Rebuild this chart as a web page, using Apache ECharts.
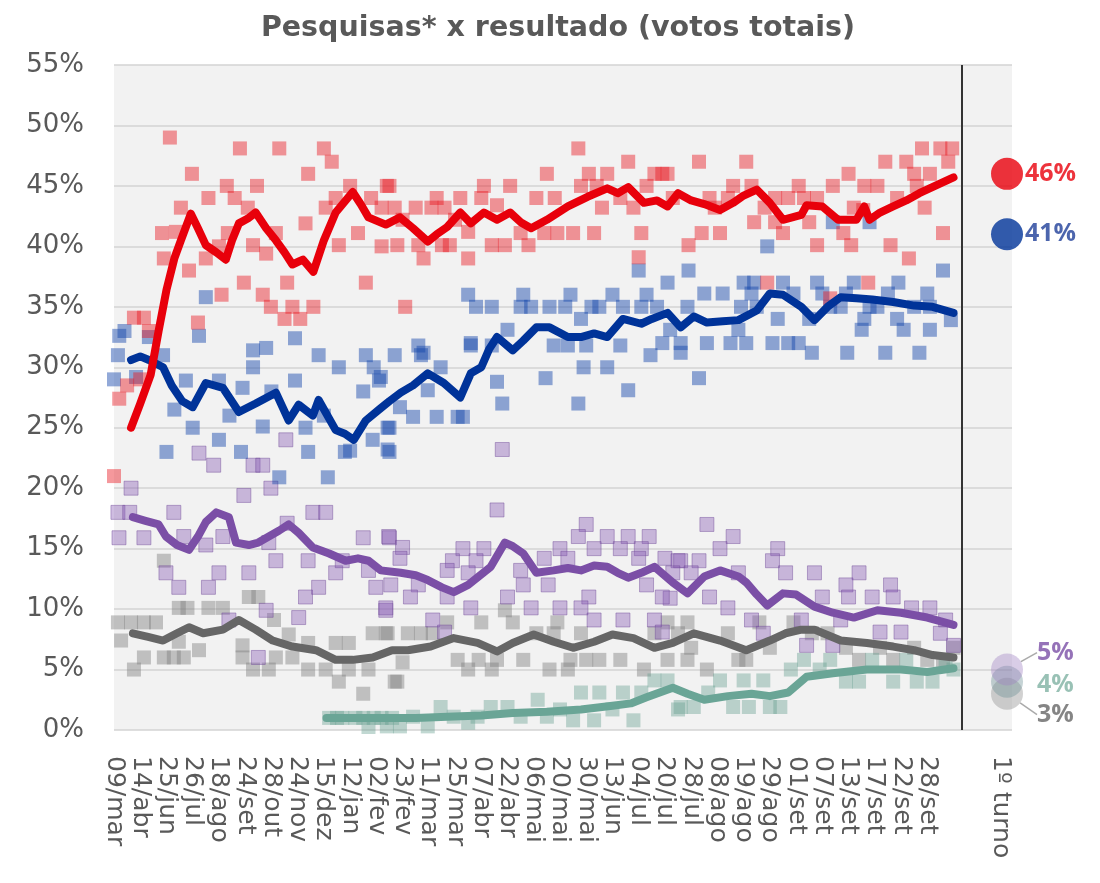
<!DOCTYPE html>
<html>
<head>
<meta charset="utf-8">
<script src="https://cdn.jsdelivr.net/npm/echarts@6/dist/echarts.min.js"></script>
<style>html,body{margin:0;padding:0;background:#fff}#c{width:1100px;height:883px}</style>
</head>
<body>
<div id="c"></div>
<script>
// Tick labels (poll dates) — x positions are tick indices
const dateLabels = ['09/mar','14/abr','25/jun','26/jul','18/ago','24/set','28/out','24/nov','15/dez','12/jan','02/fev','23/fev','11/mar','25/mar','07/abr','22/abr','06/mai','20/mai','30/mai','13/jun','04/jul','20/jul','28/jul','08/ago','19/ago','29/ago','01/set','07/set','13/set','17/set','22/set','28/set'];
const resultLabel = '1º turno';
const resultPos = 33.8;
const separatorPos = 32.33;
const yTicks = [0,5,10,15,20,25,30,35,40,45,50,55];

// Election result (1º turno)
const resultRed = 46, resultBlue = 41, resultPurple = 5, resultTeal = 4, resultGray = 3;

// Moving averages [tickIndex, %]
const redLine = [[0.65,25],[1.0,27],[1.4,29.4],[1.7,33],[2.0,36.4],[2.3,39],[2.55,40.5],[2.93,42.7],[3.2,41.5],[3.5,40.1],[3.9,39.5],[4.26,38.9],[4.5,40.5],[4.76,41.9],[5.1,42.3],[5.4,42.8],[5.8,41.5],[6.17,40.5],[6.5,39.5],[6.8,38.5],[7.2,38.9],[7.6,37.9],[8.0,40.5],[8.45,42.8],[9.1,44.5],[9.4,43.5],[9.7,42.4],[10.36,41.8],[10.9,42.4],[11.4,41.5],[11.96,40.4],[12.3,41],[12.7,41.6],[13.2,42.8],[13.6,41.9],[14.1,42.8],[14.6,42.2],[15.1,42.8],[15.5,42],[15.9,41.5],[16.5,42.2],[17.3,43.3],[18.05,44.1],[18.8,44.8],[19.2,44.4],[19.6,44.9],[20.2,43.6],[20.7,43.8],[21.1,43.3],[21.5,44.4],[22,43.8],[22.5,43.5],[23.1,43],[23.6,43.6],[24.0,44.2],[24.5,44.7],[25,43.6],[25.5,42.2],[26.2,42.6],[26.4,43.4],[27,43.3],[27.6,42.2],[28.3,42.2],[28.6,43.3],[28.8,42.2],[29.2,42.8],[29.7,43.3],[30.2,43.8],[30.7,44.4],[31.4,45.1],[32,45.7]];
const blueLine = [[0.65,30.6],[1.0,30.9],[1.33,30.6],[1.87,30],[2.2,28.5],[2.6,27.2],[3,26.7],[3.5,28.7],[4.15,28.3],[4.76,26.3],[5.4,27],[6.17,27.9],[6.66,25.6],[7.04,26.9],[7.58,26],[7.8,27.3],[8.45,24.8],[8.8,24.5],[9.14,24],[9.6,25.6],[10.1,26.5],[10.5,27.2],[10.93,27.9],[11.4,28.5],[11.96,29.5],[12.57,28.7],[13.2,27.5],[13.6,29.5],[14,30],[14.3,31.5],[14.6,32.5],[15.2,31.4],[15.6,32.2],[16.1,33.3],[16.6,33.3],[17.3,32.5],[17.8,32.5],[18.3,32.8],[18.8,32.5],[19.4,34],[20.1,33.6],[20.5,34],[21.1,34.5],[21.6,33.3],[22.1,34.2],[22.6,33.7],[23.2,33.8],[23.8,33.9],[24.5,34.7],[25,36.1],[25.5,36],[26.2,35],[26.7,33.9],[27.2,35],[27.7,35.8],[28.3,35.7],[28.9,35.6],[29.7,35.4],[30.5,35.1],[31.2,35],[32,34.5]];
const purpleLine = [[0.72,17.6],[1.2,17.3],[1.7,17],[1.98,16],[2.4,15.3],[2.86,14.9],[3.2,16],[3.5,17.2],[3.9,18],[4.38,17.6],[4.65,15.5],[5.14,15.3],[5.5,15.5],[5.9,16],[6.3,16.5],[6.66,17],[7.04,16.3],[7.58,15.1],[8.2,14.6],[8.83,14],[9.3,14.2],[9.7,14],[10.17,13.2],[10.93,13],[11.5,12.8],[11.96,12.4],[12.5,11.8],[12.95,11.4],[13.5,12],[14.36,13.5],[14.9,15.5],[15.2,15.2],[15.6,14.6],[16.1,13],[16.76,13.2],[17.3,13.4],[17.8,13.2],[18.3,13.6],[18.8,13.5],[19.2,13],[19.6,12.6],[20.1,13],[20.6,13.5],[21.3,12.2],[21.86,11.3],[22.5,12.7],[23.1,13.2],[23.8,12.7],[24.1,12.2],[24.5,11.2],[24.9,10.3],[25.5,11.3],[26,11.2],[26.7,10.2],[27.4,9.7],[28.2,9.3],[29.1,9.9],[30,9.7],[31,9.3],[32,8.7]];
const grayLine = [[0.72,8],[1.3,7.7],[1.87,7.4],[2.4,8],[2.86,8.5],[3.4,8],[4.15,8.3],[4.76,9.1],[5.4,8.3],[6.05,7.4],[6.8,6.9],[7.7,6.6],[8.45,5.8],[9.1,5.8],[9.86,6],[10.6,6.6],[11.2,6.6],[12.07,6.9],[12.95,7.6],[13.86,7.2],[14.6,6.5],[15.2,7.2],[16,7.9],[16.76,7.3],[17.5,6.8],[18.3,7.3],[19,7.9],[19.8,7.6],[20.6,6.8],[21.3,7.2],[22.1,8],[23.1,7.4],[24.1,6.6],[25,7.4],[25.6,8],[26.2,8.3],[26.7,8.3],[27.7,7.4],[28.7,7.2],[29.7,6.9],[30.5,6.6],[31.2,6.2],[32,6]];
const tealLine = [[8.1,1],[9,1],[10.17,1],[11.5,1],[12.7,1.1],[14,1.2],[15.2,1.4],[16.5,1.5],[17.8,1.7],[19,2],[19.7,2.2],[20.3,2.7],[20.8,3.1],[21.3,3.5],[21.86,3],[22.5,2.5],[23.4,2.8],[24.3,3],[25,2.8],[25.7,3.1],[26.4,4.4],[27.4,4.7],[28.7,5],[30,5],[31,4.8],[32,5.1]];

// Individual polls [tickIndex, %]
const redPolls = [[0.0,21],[0.2,27.4],[0.76,34.1],[1.14,34.1],[1.33,33],[0.5,28.5],[1.0,29],[2.13,49],[4.8,48.1],[6.3,48.1],[8,48.1],[8.3,47],[2.97,46],[7.4,46],[4.3,45],[5.45,45],[9,45],[10.5,45],[3.6,44],[4.6,44],[8.45,44],[9.8,44],[2.55,43.2],[5.1,43.2],[8.07,43.2],[10.2,43.2],[1.83,41.1],[2.36,41.2],[7.3,41.9],[4.34,41.1],[6.17,41.1],[9.3,41.1],[1.9,39],[5.3,40.1],[5.8,39.4],[8.57,40.1],[10.2,40],[2.86,38],[3.5,39],[4.0,40],[4.95,37],[6.6,37],[9.6,37],[4.1,36],[5.67,36],[5.98,35],[6.8,35],[7.6,35],[6.5,34],[7.1,34],[3.2,33.7],
[17.7,48.1],[19.6,47],[16.5,46],[18.1,46],[18.8,46],[20.6,46],[21.1,46],[10.4,45],[14.1,45],[15.1,45],[17.8,45],[18.4,45],[20.3,45],[12.3,44],[13.2,44],[14,44],[16.1,44],[16.8,44],[19.3,44],[10.7,43.2],[11.5,43.2],[12.1,43.2],[12.6,43.2],[14.6,43.4],[18.6,43.2],[19.8,43.2],[11,42.2],[13,42.2],[13.5,41.2],[15.5,41.1],[16.4,41.1],[16.9,41.1],[17.5,41.1],[18.3,41.1],[20.1,41.1],[10.8,40.1],[11.6,40.1],[12.5,40.1],[12.8,40.1],[14.4,40.1],[14.9,40.1],[15.8,40.1],[11.8,39],[13.5,39],[20,39.1],[11.1,35],
[30.8,48.1],[31.5,48.1],[31.95,48.1],[22.3,47],[24.1,47],[29.4,47],[30.2,47],[31.8,47],[20.9,46],[28,46],[30.5,46],[31.1,46],[23.6,45],[24.3,45],[26.1,45],[27.4,45],[28.6,45],[29.1,45],[30.6,45],[21.3,44],[22.7,44],[23.4,44],[25.2,44],[25.7,44],[26.3,44],[26.8,44],[29.85,44],[22.9,43.2],[24.8,43.2],[28.2,43.2],[30.9,43.2],[24.4,42],[25.2,42],[26.5,42],[28.56,43],[22.4,41.1],[23.1,41.1],[25.5,41.1],[27.8,41.1],[31.6,41.1],[21.9,40.1],[26.8,40.1],[28.1,40.1],[29.6,40.1],[30.3,39],[24.9,37],[28.75,37],[27.3,35.7]];
const bluePolls = [[0.15,31],[0.2,32.6],[0.4,33],[1.33,32.5],[3.5,35.8],[3.24,32.6],[6.9,32.4],[1.87,31],[5.3,31.4],[5.8,31.6],[7.8,31],[9.6,31],[10.7,31],[5.3,30],[9.9,30],[8.57,30],[0.84,29.2],[2.74,28.9],[4,28.9],[6.9,28.9],[10.1,28.9],[4.9,28.3],[6,28],[9.5,28],[2.3,26.5],[4.4,26],[5.67,25.1],[7.3,25],[8,26],[9.86,24],[10.5,25],[3,25],[4,24],[2,23],[4.84,23],[7.4,23],[8.8,23],[10.5,23],[6.3,20.9],[8.15,20.9],[9,23.1],[0.0,29],
[11.6,31.8],[13.6,31.8],[14.4,31.8],[16.76,31.8],[17.3,31.8],[18,31.8],[19.3,31.8],[10.17,29.2],[11.7,31],[12.45,30],[14.6,28.8],[16.45,29.1],[17.9,30],[18.8,30],[19.6,28.1],[20.45,31],[11.4,25.9],[12.3,25.9],[13.1,25.9],[13.3,25.9],[10.43,25],[14.8,27],[17.7,27],[10.43,23.2],[11.96,28.1],[10.9,26.7],
[13.5,36],[15.6,36],[17.4,36],[19,36],[20.3,36],[21.1,37],[13.8,35],[14.4,35],[15.5,35],[15.9,35],[16.6,35],[17.2,35],[18.2,35],[18.5,35],[19.4,35],[20.1,35],[20.7,35],[17.8,34],[15,33.1],[20,38],[13.6,32],[11.8,31.2],[20.9,32],
[24.9,40],[21.9,38],[31.6,38],[24,37],[24.4,37],[25.5,37],[26.8,37],[28.2,37],[29.9,37],[22.5,36.1],[23.2,36.1],[24.3,36.1],[25.9,36.1],[27,36.1],[27.9,36.1],[29.5,36.1],[31,36.1],[21.86,35],[23.9,35],[24.5,35],[27.3,35],[27.7,35],[28.8,35],[29.1,35],[30.5,35],[31.1,35],[31.9,33.9],[25.3,34],[26.5,34],[28.6,34],[29.85,34],[21.2,33.1],[23.8,33.1],[28.5,33.1],[30.1,33.1],[31.1,33.1],[21.6,32],[22.6,32],[23.5,32],[24.1,32],[25.1,32],[25.7,32],[26.1,32],[26.6,31.2],[27.95,31.2],[29.4,31.2],[30.7,31.2],[21.6,31.2],[22.3,29.1],[27.4,42],[28.8,42]];
const purplePolls = [[0.65,20],[0.15,18],[2.28,18],[0.19,15.9],[1.14,15.9],[2.66,16],[3.24,22.9],[3.8,21.9],[4.95,19.4],[5.3,21.9],[5.67,21.9],[5.98,20],[6.55,24],[3.5,15.3],[4.15,16],[1.98,13],[2.47,11.8],[3.6,11.8],[4,13],[5.14,13],[5.9,15.5],[6.17,14],[6.6,17.1],[7.4,14],[7.58,18],[8.07,18],[7.3,11],[7.04,9.3],[5.8,9.9],[4.38,9.1],[5.5,6],[7.8,11.8],[8.45,13],[9.5,15.9],[10.5,15.9],[9.98,11.8],[10.36,9.9],[8.7,14],[9.7,13.2],[0.6,18],
[14.8,23.2],[14.6,18.2],[10.47,16],[11,15.1],[18,17],[17.7,16],[18.8,16],[19.6,16],[20.4,16],[13.3,15],[14.1,15],[17,15],[18.3,15],[19.3,15],[20.1,15],[10.9,14.2],[12.9,14],[13.8,14],[16.4,14.2],[17.3,14.2],[20,14.2],[21,14.2],[21.5,14],[12.7,13.2],[15.5,13.2],[10.55,12],[11.6,12],[13.5,13],[15.6,12],[16.55,12],[20.3,12],[21.2,10.9],[11.3,11],[12.7,11],[15,11],[18.1,11],[10.36,10.1],[13.6,10.1],[15.9,10.1],[17,10.1],[17.8,10.1],[12.15,9.1],[12.6,8.1],[18.3,9.1],[19.4,9.1],[20.6,9.1],[20.9,8.1],
[22.6,17],[23.6,16],[23.1,15],[25.3,15],[25.1,14],[21.6,14],[22.3,14],[21.3,13],[22,13],[23.8,13],[25.6,13],[26.7,13],[28.4,13],[27.9,12],[29.6,12],[20.9,11],[22.7,11],[27,11],[28,11],[28.9,11],[29.7,11],[23.4,10.1],[30.4,10.1],[31.1,10.1],[24.3,9.1],[26.2,9.1],[27.7,9.1],[30,8.1],[31.7,9.1],[24.75,8],[26.4,7],[27.4,7],[29.2,8.1],[32,7],[31.5,8]];
const grayPolls = [[0.15,8.9],[0.65,8.9],[1.14,8.9],[1.6,8.9],[0.27,7.4],[1.9,14],[2.47,10.1],[2.8,10.1],[3.6,10.1],[4.15,10.1],[5.14,11],[5.5,11],[0.76,5],[1.14,6],[1.9,6],[2.28,6],[2.66,6],[3.24,6.6],[2.47,7.3],[4.9,7],[4.9,6],[5.3,5],[5.9,5],[6.1,9.1],[6.17,6],[6.66,7.9],[6.8,6],[7.4,5],[8.07,5],[8.45,7.2],[8.57,4],[8.95,5],[9.5,3],[8.95,7.2],[9.86,8],[10.36,8],[10.7,4],[7.4,7.2],[9.7,5],
[10.43,8],[11.2,8],[11.7,8],[10.8,4],[11,5.6],[12.7,8.9],[12.15,8],[13.1,5.8],[13.5,5],[14,8.9],[13.9,5.8],[14.4,5],[14.6,5.8],[14.9,9.9],[15.2,8.9],[15.6,5.8],[16.1,8],[16.6,5],[16.76,8],[16.9,8.9],[17.3,5],[17.4,5.8],[17.8,8],[18,5.8],[18.5,5.8],[19.3,5.8],[20.2,5],[20.6,8],[21.1,5.8],[21.5,8],
[21.1,8.9],[21.86,8.9],[22,6.8],[22.6,5],[23.4,8],[23.8,5.8],[24.1,5.8],[24.6,8.9],[25,6.8],[25.9,8.9],[26.6,8],[27.2,8],[27.9,6.8],[28.4,5.8],[29.2,6.8],[29.7,5.8],[30.5,6.8],[31,5.8],[31.6,5.8],[32,6.8],[21.86,5.8]];
const tealPolls = [[8.2,1],[8.5,1],[8.7,1],[9.2,1],[9.5,1],[9.7,0.25],[9.9,1],[10.2,1],[10.6,1],[10.4,0.3],[10.9,0.3],[11.4,1.1],[11.96,0.3],[12.45,1.9],[12.95,1.1],[13.5,0.6],[13.86,1.1],[14.36,1.9],[15,1.9],[15.5,1.1],[16.15,2.5],[16.5,1.1],[17,1.7],[17.5,0.8],[17.8,3.1],[18.3,0.8],[18.5,3.1],[19,1.7],[19.4,3.1],[19.8,0.8],[20.1,3.1],[20.6,4.1],[21.1,4.1],[21.5,1.7],[21.6,1.9],[22.1,1.9],[22.65,3.1],[23.1,4.1],[23.6,1.9],[24,4.1],[24.2,1.9],[24.75,4.1],[25,1.9],[25.4,1.9],[25.8,5],[26.3,5.8],[26.9,5],[27.3,5.8],[27.9,4],[28.4,4],[28.9,5.8],[29.7,4],[30.2,5.8],[30.6,4],[31.2,4],[31.7,5.8],[32,5]];

const resultX = 34.04;
const TXT = '#595959';
const chart = echarts.init(document.getElementById('c'));

function polls(data, color, border) {
  return { type: 'scatter', data, symbol: 'rect', symbolSize: 14, silent: true, z: 2,
    itemStyle: { color, borderColor: border || 'transparent', borderWidth: border ? 1 : 0 } };
}
function avg(data, color, z) {
  return { type: 'line', data, showSymbol: false, symbol: 'none', smooth: false, silent: true, z,
    lineStyle: { color, width: 8, cap: 'round', join: 'round' } };
}
function result(val, color, labelColor, opts) {
  return Object.assign({ type: 'scatter', data: [[resultX, val]], symbol: 'circle', symbolSize: 32, z: 6, silent: true,
    itemStyle: { color },
    label: { show: true, position: 'right', distance: 2, formatter: val + '%', color: labelColor,
      fontSize: 25, fontWeight: 'bold', fontFamily: 'Open Sans' } }, opts || {});
}

chart.setOption({
  animation: false,
  title: { text: 'Pesquisas* x resultado (votos totais)', left: 553, top: 9, textAlign: 'center',
    textStyle: { fontFamily: 'DejaVu Sans', fontWeight: 'bold', fontSize: 28.5, color: TXT } },
  grid: { left: 114, right: 88, top: 65, bottom: 153, show: true, backgroundColor: '#f2f2f2', borderWidth: 0 },
  xAxis: { type: 'value', min: 0, max: 34.23,
    axisLine: { show: false }, axisTick: { show: false }, splitLine: { show: false },
    axisLabel: { customValues: dateLabels.map((d, i) => i).concat([resultPos]), rotate: -90, margin: 26,
      fontFamily: 'DejaVu Sans', fontSize: 25, color: TXT,
      formatter: v => (Math.abs(v - resultPos) < 0.01 ? resultLabel : (dateLabels[Math.round(v)] || '')) } },
  yAxis: { type: 'value', min: 0, max: 55, interval: 5,
    axisLine: { show: false }, axisTick: { show: false },
    splitLine: { lineStyle: { color: '#d3d3d3', width: 1.5 } },
    axisLabel: { formatter: '{value}%', fontFamily: 'DejaVu Sans', fontSize: 26, color: TXT, margin: 30 } },
  series: [
    polls(grayPolls, 'rgba(125,125,125,0.55)'),
    polls(tealPolls, 'rgba(100,158,142,0.5)'),
    polls(purplePolls, 'rgba(135,90,180,0.5)', 'rgba(110,70,150,0.55)'),
    polls(bluePolls, 'rgba(20,70,170,0.58)'),
    polls(redPolls, 'rgba(232,20,30,0.55)'),
    avg(tealLine, '#6aa596', 3),
    avg(grayLine, '#666666', 3),
    avg(purpleLine, '#7b4fa6', 4),
    avg(blueLine, '#003399', 4),
    Object.assign(avg(redLine, '#e8000b', 5), {
      markLine: { silent: true, symbol: 'none', label: { show: false },
        lineStyle: { color: '#333', width: 2, type: 'solid' }, data: [{ xAxis: separatorPos }] } }),
    result(resultRed, '#e8000b', '#e8000b'),
    result(resultBlue, '#003399', '#1f3f99'),
    result(resultGray, 'rgba(150,150,150,0.55)', '#666666', {
      labelLayout: { dx: 12, dy: 21 }, labelLine: { show: true, lineStyle: { color: '#aaa', width: 1.5 } } }),
    result(resultTeal, 'rgba(110,145,150,0.5)', '#7fb2a3', {
      labelLayout: { dx: 12, dy: 3 } }),
    result(resultPurple, 'rgba(160,130,195,0.5)', '#7b4fa6', {
      labelLayout: { dx: 12, dy: -17 }, labelLine: { show: true, lineStyle: { color: '#aaa', width: 1.5 } } })
  ]
});
</script>
</body>
</html>
